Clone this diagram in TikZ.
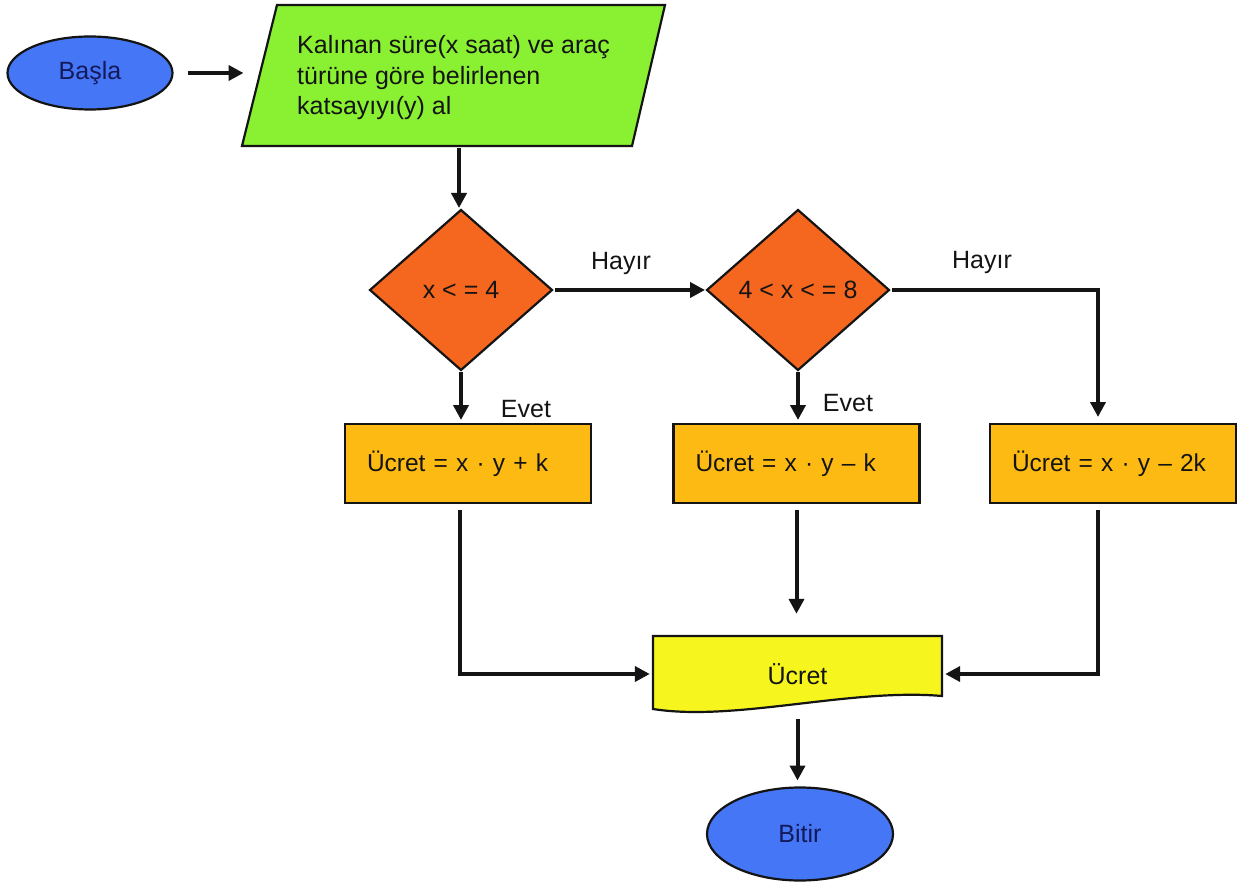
\documentclass[tikz,border=0pt]{standalone}
\usepackage{fontspec}
\setmainfont{Liberation Sans}
\newfontfamily\calcfont[WordSpace=0.75]{Liberation Sans}
\usetikzlibrary{shapes.geometric,arrows.meta}
\definecolor{ovalblue}{RGB}{68,118,245}
\definecolor{navytext}{RGB}{20,25,90}
\definecolor{inputgreen}{RGB}{138,240,50}
\definecolor{diaorange}{RGB}{245,102,30}
\definecolor{boxamber}{RGB}{253,186,18}
\definecolor{docyellow}{RGB}{246,246,30}
\definecolor{ink}{RGB}{20,20,20}
\begin{document}
\begin{tikzpicture}[x=1pt,y=-1pt,
  every node/.style={font=\fontsize{25}{30.5}\selectfont, text=ink},
  oval/.style={ellipse, draw=ink, line width=2.2pt, fill=ovalblue, text=navytext, inner sep=0pt, outer sep=0pt},
  decision/.style={diamond, draw=ink, line width=2.2pt, fill=diaorange, inner sep=0pt, outer sep=0pt, minimum width=182pt, minimum height=160pt},
  calc/.style={rectangle, draw=ink, line width=2.2pt, fill=boxamber, minimum width=246pt, minimum height=79pt, text width=202pt, inner xsep=22pt, align=left, outer sep=0pt, font=\calcfont\fontsize{24.5}{30}\selectfont},
  shapeline/.style={draw=ink, line width=2.2pt},
  conn/.style={draw=ink, line width=4pt, -{Triangle[length=15pt,width=15pt]}},
  lbl/.style={inner sep=0pt}
]
\useasboundingbox (0,0) rectangle (1239,882);
\fill[white] (0,0) rectangle (1239,882);

% start
\node[oval, minimum width=165pt, minimum height=73pt] (start) at (90,73) {Başla};

% input parallelogram
\filldraw[shapeline, fill=inputgreen] (277,5) -- (665,5) -- (632,146) -- (242,146) -- cycle;
\node[anchor=west, align=left, inner sep=0pt] (input) at (297,78) {Kalınan süre(x saat) ve araç\\türüne göre belirlenen\\katsayıyı(y) al};
\coordinate (inL) at (259.5,73);
\coordinate (inB) at (459,146);

% decisions
\node[decision] (d1) at (461,290) {x < = 4};
\node[decision] (d2) at (798,290) {4 < x < = 8};

% calculations
\node[calc] (b1) at (468,463.5) {Ücret = x · y + k};
\node[calc] (b2) at (796.5,463.5) {Ücret = x · y – k};
\node[calc] (b3) at (1113,463.5) {Ücret = x · y – 2k};

% document output
\filldraw[shapeline, fill=docyellow] (653,636) -- (942,636) -- (942,696) .. controls (850,688) and (735,722) .. (653,709) -- cycle;
\node[inner sep=0pt, minimum width=289pt, minimum height=78pt] (out) at (797.5,674) {Ücret};

% end
\node[oval, minimum width=186pt, minimum height=93pt] (end) at (800,834) {Bitir};

% labels
\node[lbl] (h1) at (621,263) {Hayır};
\node[lbl] (h2) at (982,262) {Hayır};
\node[lbl] (e1) at (526,409) {Evet};
\node[lbl] (e2) at (848,403) {Evet};

% connectors
\draw[conn, shorten <=15pt, shorten >=16pt] (start.east) -- (start.east -| inL);
\draw[conn, shorten <=2pt, shorten >=2pt] (inB) -- (inB |- d1.north);
\draw[conn, shorten <=3pt, shorten >=2pt] (d1.east) -- (d2.west);
\draw[conn, shorten <=3pt, shorten >=7pt] (d2.east) -| ([xshift=-15pt]b3.north);
\draw[conn, shorten <=2pt, shorten >=4pt] (d1.south) -- (d1.south |- b1.north);
\draw[conn, shorten <=2pt, shorten >=4pt] (d2.south) -- (d2.south |- b2.north);
\draw[conn, shorten <=7pt, shorten >=3pt] ([xshift=-8pt]b1.south) |- (out.west);
\draw[conn, shorten <=7pt, shorten >=21pt] (b2.south) -- (b2.south |- out.north);
\draw[conn, shorten <=7pt, shorten >=3pt] ([xshift=-15pt]b3.south) |- (out.east);
\draw[conn, shorten <=6pt, shorten >=7pt] (out.south) -- (out.south |- end.north);
\end{tikzpicture}
\end{document}
